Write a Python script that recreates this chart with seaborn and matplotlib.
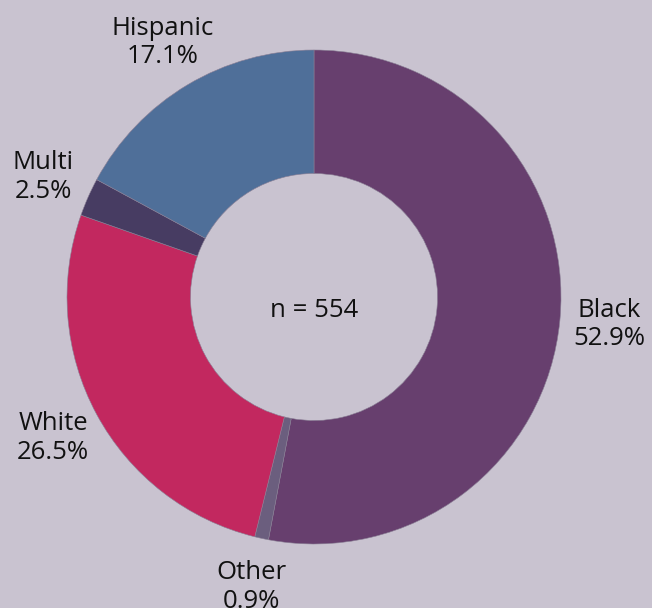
import numpy as np
import seaborn as sns
import matplotlib
matplotlib.use("Agg")
import matplotlib.pyplot as plt

# data
groups = ["Black", "Other", "White", "Multi", "Hispanic"]
shares = [52.9, 0.9, 26.5, 2.5, 17.1]
total_n = 554

bg = "#C9C3D0"
palette = sns.color_palette(["#673F6E", "#6B5E7E", "#C2285F", "#473C62", "#4F6F99"])

sns.set_style("white")
plt.rcParams["font.family"] = ["Open Sans", "DejaVu Sans"]

fig = plt.figure(figsize=(6.52, 6.08), dpi=100)
fig.patch.set_facecolor(bg)
ax = fig.add_axes([0, 0, 1, 1])
ax.set_facecolor(bg)

labels = [f"{g}\n{s:.1f}%" for g, s in zip(groups, shares)]
wedges, texts = ax.pie(shares, labels=labels, colors=palette, startangle=90,
                       counterclock=False, radius=1.0, labeldistance=1.2,
                       wedgeprops=dict(width=0.5, linewidth=0.4, edgecolor="#8a7f95"),
                       textprops=dict(fontsize=18.5, color="#111111", linespacing=1.2))
for t in texts:
    t.set_horizontalalignment("center")
    t.set_verticalalignment("center")

ax.text(0, -0.055, f"n = {total_n}", ha="center", va="center", fontsize=18.5, color="#111111")

# scale: 1 unit = 247 px, centre at (314, 297) from top-left
ax.set_xlim(-314 / 247, (652 - 314) / 247)
ax.set_ylim(-311 / 247, (608 - 311) / 247)
ax.set_aspect("auto")
ax.axis("off")

fig.savefig("out.png", dpi=100, facecolor=bg)
